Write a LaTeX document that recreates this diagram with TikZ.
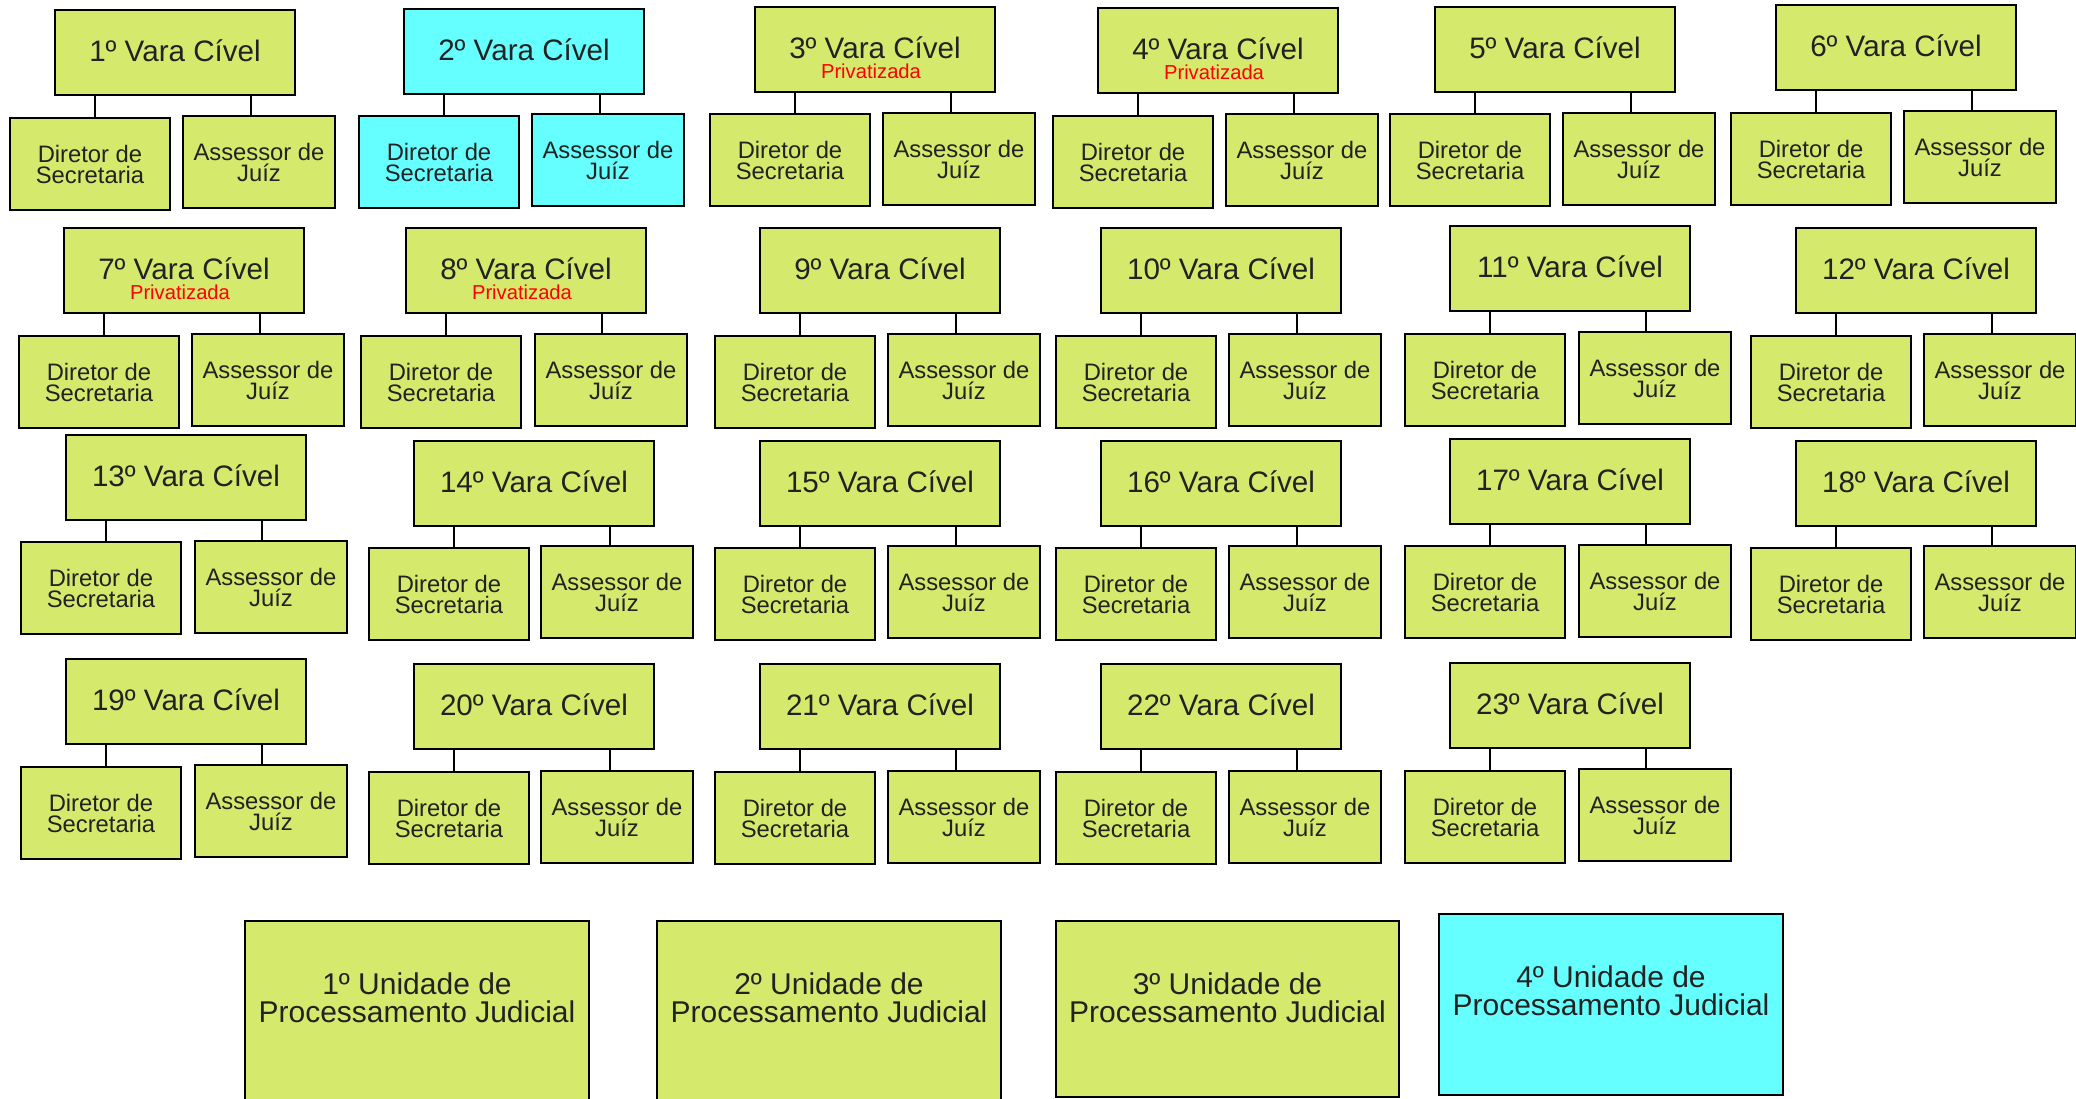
\documentclass[tikz,border=0pt]{standalone}
\usepackage{fontspec}
\setmainfont{Liberation Sans}
\usetikzlibrary{calc}
\definecolor{limefill}{HTML}{D5E96C}
\definecolor{cyanfill}{HTML}{66FFFF}
\definecolor{ink}{HTML}{222222}
\definecolor{privred}{HTML}{FF0000}
\tikzset{
  box/.style={draw=black, line width=1pt, rectangle, inner sep=0pt, outer sep=0pt, anchor=north west, text=ink},
  head/.style={box, minimum width=120pt, minimum height=42.5pt, font=\fontsize{14.8pt}{17pt}\selectfont, text height=9pt, text depth=0pt},
  dirbox/.style={box, minimum width=80pt, minimum height=46pt, align=center, font=\fontsize{11.9pt}{10.5pt}\selectfont},
  assbox/.style={box, minimum width=76pt, minimum height=46pt, align=center, font=\fontsize{11.9pt}{10.5pt}\selectfont},
  privlabel/.style={text=privred, font=\fontsize{10.1pt}{11pt}\selectfont, inner sep=0pt, anchor=base},
  conn/.style={draw=black, line width=0.75pt},
  unitbox/.style={box, minimum width=172pt},
  unittext/.style={align=center, font=\fontsize{15pt}{14pt}\selectfont, text=ink, inner sep=0pt},
  lime/.style={fill=limefill},
  cyanb/.style={fill=cyanfill}
}
\newcommand\vara[8]{%
  \node[head,#8] (h#1) at (#2,#3) {#1º Vara Cível};
  \node[dirbox,#8] (d#1) at (#4,#5) {Diretor de\\Secretaria};
  \node[assbox,#8] (a#1) at (#6,#7) {Assessor de\\Juíz};
  \coordinate (cl#1) at ($(h#1.south west)+(40,0)$);
  \coordinate (cr#1) at ($(h#1.south west)+(196,0)$);
  \draw[conn] (cl#1) -- (cl#1 |- d#1.north);
  \draw[conn] (cr#1) -- (cr#1 |- a#1.north);
}
\newcommand\privat[1]{\node[privlabel] (p#1) at ($(h#1.center)+(-4,29)$) {Privatizada};}
\begin{document}
\begin{tikzpicture}[x=0.5pt,y=-0.5pt]
\useasboundingbox (0,0) rectangle (2076,1098);
\fill[white] (0,0) rectangle (2076,1098);
\clip (0,0) rectangle (2076,1098);
% row 1
\vara{1}{55}{10}{10}{118}{183}{116}{lime}
\vara{2}{404}{9}{359}{116}{532}{114}{cyanb}
\vara{3}{755}{7}{710}{114}{883}{113}{lime}
\vara{4}{1098}{8}{1053}{116}{1226}{114}{lime}
\vara{5}{1435}{7}{1390}{114}{1563}{113}{lime}
\vara{6}{1776}{5}{1731}{113}{1904}{111}{lime}
% row 2
\vara{7}{64}{228}{19}{336}{192}{334}{lime}
\vara{8}{406}{228}{361}{336}{535}{334}{lime}
\vara{9}{760}{228}{715}{336}{888}{334}{lime}
\vara{10}{1101}{228}{1056}{336}{1229}{334}{lime}
\vara{11}{1450}{226}{1405}{334}{1579}{332}{lime}
\vara{12}{1796}{228}{1751}{336}{1924}{334}{lime}
% row 3
\vara{13}{66}{435}{21}{542}{195}{541}{lime}
\vara{14}{414}{441}{369}{548}{541}{546}{lime}
\vara{15}{760}{441}{715}{548}{888}{546}{lime}
\vara{16}{1101}{441}{1056}{548}{1229}{546}{lime}
\vara{17}{1450}{439}{1405}{546}{1579}{545}{lime}
\vara{18}{1796}{441}{1751}{548}{1924}{546}{lime}
% row 4
\vara{19}{66}{659}{21}{767}{195}{765}{lime}
\vara{20}{414}{664}{369}{772}{541}{771}{lime}
\vara{21}{760}{664}{715}{772}{888}{771}{lime}
\vara{22}{1101}{664}{1056}{772}{1229}{771}{lime}
\vara{23}{1450}{663}{1405}{771}{1579}{769}{lime}
% privatizada labels
\privat{3}
\privat{4}
\privat{7}
\privat{8}
% unidades
\node[unitbox,lime,minimum height=92pt] (u1) at (245,921) {};
\node[unitbox,lime,minimum height=92pt] (u2) at (657,921) {};
\node[unitbox,lime,minimum height=88pt,minimum width=171.5pt] (u3) at (1056,921) {};
\node[unitbox,cyanb,minimum height=90.5pt] (u4) at (1439,914) {};
\node[unittext] (t1) at ($(u1.north)+(0,77)$) {1º Unidade de\\Processamento Judicial};
\node[unittext] (t2) at ($(u2.north)+(0,77)$) {2º Unidade de\\Processamento Judicial};
\node[unittext] (t3) at ($(u3.north)+(0,77)$) {3º Unidade de\\Processamento Judicial};
\node[unittext] (t4) at ($(u4.north)+(0,77)$) {4º Unidade de\\Processamento Judicial};
\end{tikzpicture}
\end{document}
